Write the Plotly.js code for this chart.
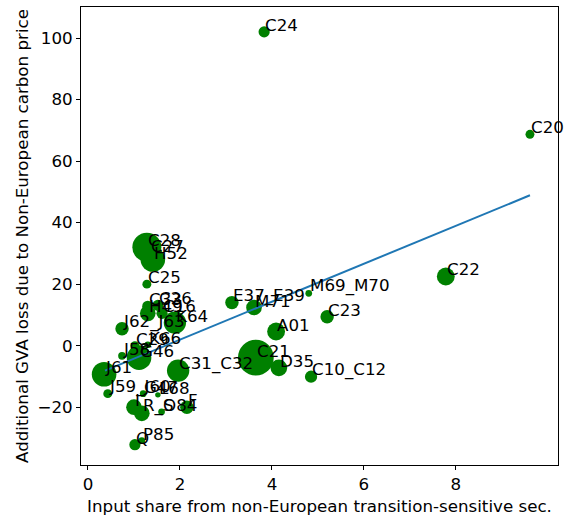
<!DOCTYPE html>
<html>
<head>
<meta charset="utf-8">
<script src="https://cdn.plot.ly/plotly-3.0.1.min.js"></script>
<style>html,body{margin:0;padding:0;background:#fff;}#chart{width:568px;height:517px;}</style>
</head>
<body>
<div id="chart"></div>
<script>
// Sector codes
var sectors = ["C24","C20","C22","C23","M69_M70","C10_C12","D35","C21","A01","E37_E39","M71",
  "C31_C32","K64","J62_J63","C28","C27","H52","C25","C33","C26","H49","C16",
  "J58","G46","C29","K66","J61","J59_J60","G47","L68","I","R_S","O84","F","P85","Q"];
// Input share from non-European transition-sensitive sectors
var inputShare = [3.83,9.61,7.78,5.20,4.80,4.85,4.15,3.65,4.09,3.13,3.61,
  1.96,1.89,0.74,1.28,1.35,1.41,1.28,1.30,1.52,1.30,1.61,
  0.74,1.11,1.02,1.30,0.35,0.43,1.20,1.52,1.00,1.17,1.60,2.15,1.17,1.02];
// Additional GVA loss due to non-European carbon price
var gvaLoss = [102.0,68.7,22.5,9.4,17.0,-10.1,-7.2,-3.9,4.6,14.0,12.4,
  -8.1,7.5,5.5,32.0,30.0,28.0,20.0,12.8,13.1,10.5,10.5,
  -3.3,-3.9,0.0,0.3,-9.3,-15.6,-15.6,-16.0,-20.0,-22.0,-21.5,-20.0,-30.9,-32.2];
// Relative sector weight (bubble area)
var weight = [25,16,64,36,9,30,56,256,64,36,49,
  100,100,36,169,100,121,16,25,25,49,25,
  12,121,16,9,121,16,9,6,49,49,9,36,9,25];
// Fitted trend line endpoints
var trendX = [0.37, 9.61];
var trendY = [-8.1, 48.9];

var traces = [
  {x: inputShare, y: gvaLoss, type: 'scatter', mode: 'markers',
   marker: {color: '#008000', opacity: 1, size: weight, sizemode: 'area', sizeref: 0.4, line: {width: 0}},
   hoverinfo: 'text', text: sectors, cliponaxis: false},
  {x: trendX, y: trendY, type: 'scatter', mode: 'lines',
   line: {color: '#1f77b4', width: 2}}
];

var annotations = sectors.map(function(s, i){
  return {x: inputShare[i], y: gvaLoss[i], xref: 'x', yref: 'y', text: s,
    showarrow: false, xanchor: 'left', yanchor: 'bottom', xshift: -1, yshift: -5,
    font: {family: 'DejaVu Sans', size: 16.7, color: '#000'}};
});

var layout = {
  width: 568, height: 517,
  margin: {l: 81, r: 10, t: 7, b: 52},
  paper_bgcolor: '#fff', plot_bgcolor: '#fff',
  showlegend: false,
  font: {family: 'DejaVu Sans', size: 16.7, color: '#000'},
  xaxis: {range: [-0.152, 10.22], tickvals: [0,2,4,6,8], ticks: 'outside', ticklen: 4,
    tickcolor: '#000', showline: true, mirror: true, linecolor: '#000', linewidth: 1,
    showgrid: false, zeroline: false, automargin: false,
    tickfont: {size: 16.7},
    title: {text: 'Input share from non-European transition-sensitive sec.', standoff: 7,
      font: {size: 16.7}}},
  yaxis: {range: [-38.8, 110.1], tickvals: [-20,0,20,40,60,80,100], ticks: 'outside', ticklen: 4,
    tickcolor: '#000', showline: true, mirror: true, linecolor: '#000', linewidth: 1,
    showgrid: false, zeroline: false, automargin: false,
    tickfont: {size: 16.7},
    title: {text: 'Additional GVA loss due to Non-European carbon price', standoff: 4,
      font: {size: 16.7}}},
  annotations: annotations
};

Plotly.newPlot('chart', traces, layout, {displayModeBar: false, staticPlot: true});
</script>
</body>
</html>
